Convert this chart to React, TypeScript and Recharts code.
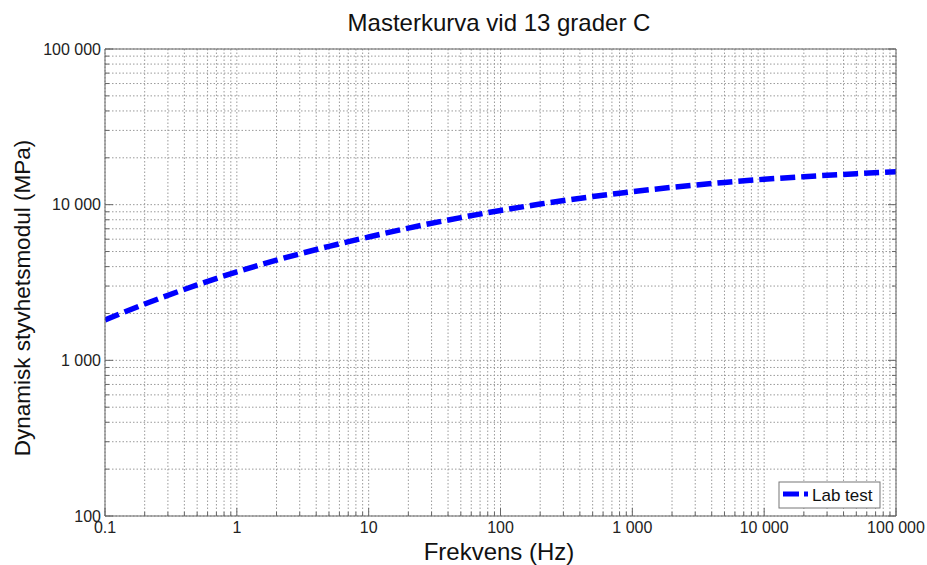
import React from "react";
import { LineChart, Line, XAxis, YAxis, CartesianGrid } from "recharts";

// Frequency (Hz) and dynamic stiffness modulus (MPa)
const frequency = [0.1, 0.2, 0.5, 1, 2, 5, 10, 20, 50, 100, 200, 500, 1000, 2000, 5000, 10000, 20000, 50000, 100000];
const modulus = [1815, 2300, 3050, 3700, 4400, 5400, 6200, 7070, 8260, 9180, 10090, 11270, 12120, 12920, 13900, 14560, 15120, 15810, 16290];

const xMajor = [0.1, 1, 10, 100, 1000, 10000, 100000];
const xMajorLabels = ["0.1", "1", "10", "100", "1 000", "10 000", "100 000"];
const yMajor = [100, 1000, 10000, 100000];
const yMajorLabels = ["100", "1 000", "10 000", "100 000"];
const minorMultipliers = [1, 2, 3, 4, 5, 6, 7, 8, 9];

const title = "Masterkurva vid 13 grader C";
const xTitle = "Frekvens (Hz)";
const yTitle = "Dynamisk styvhetsmodul (MPa)";
const seriesName = "Lab test";

const data = frequency.map((f, i) => ({ f, e: modulus[i] }));

function allTicks(majors: number[]) {
  const out: number[] = [];
  majors.forEach((m, i) => {
    if (i === majors.length - 1) {
      out.push(m);
    } else {
      minorMultipliers.forEach((k) => out.push(parseFloat((m * k).toPrecision(6))));
    }
  });
  return out;
}
const xTicks = allTicks(xMajor);
const yTicks = allTicks(yMajor);

const FONT = "'Liberation Sans', Arial, Helvetica, sans-serif";
const AXIS = "#666";
const MARGIN = 7;
const BOTTOM_MARGIN = 6;

function labelOf(v: number, majors: number[], labels: string[]) {
  const idx = majors.findIndex((m) => Math.abs(m - v) / m < 1e-6);
  return idx >= 0 ? labels[idx] : null;
}

const BottomTick = (props: any) => {
  const { x, y, payload } = props;
  const lab = labelOf(payload.value, xMajor, xMajorLabels);
  const ay = y - BOTTOM_MARGIN;
  const len = lab !== null ? 8 : 4;
  return (
    <g>
      <line x1={x} y1={ay} x2={x} y2={ay - len} stroke={AXIS} strokeWidth={1} />
      {lab !== null && (
        <text x={x} y={y} dy="0.71em" textAnchor="middle" fontSize={16} fontFamily={FONT} fill="#222">
          {lab}
        </text>
      )}
    </g>
  );
};

const TopTick = (props: any) => {
  const { x, y, payload } = props;
  const lab = labelOf(payload.value, xMajor, xMajorLabels);
  const ay = y + MARGIN;
  const len = lab !== null ? 8 : 4;
  return <line x1={x} y1={ay} x2={x} y2={ay + len} stroke={AXIS} strokeWidth={1} />;
};

const LeftTick = (props: any) => {
  const { x, y, payload } = props;
  const lab = labelOf(payload.value, yMajor, yMajorLabels);
  const ax = x + 4;
  const len = lab !== null ? 8 : 4;
  return (
    <g>
      <line x1={ax} y1={y} x2={ax + len} y2={y} stroke={AXIS} strokeWidth={1} />
      {lab !== null && (
        <text x={x} y={y} dy="0.355em" textAnchor="end" fontSize={16} fontFamily={FONT} fill="#222">
          {lab}
        </text>
      )}
    </g>
  );
};

const RightTick = (props: any) => {
  const { x, y, payload } = props;
  const lab = labelOf(payload.value, yMajor, yMajorLabels);
  const ax = x - MARGIN;
  const len = lab !== null ? 8 : 4;
  return <line x1={ax} y1={y} x2={ax - len} y2={y} stroke={AXIS} strokeWidth={1} />;
};

export default function App() {
  return (
    <div style={{ position: "absolute", left: 0, top: 0, width: 927, height: 565, background: "#fff" }}>
      <LineChart width={927} height={565} data={data} margin={{ top: 1, right: 1, bottom: 1, left: 0 }}>
        <CartesianGrid
          xAxisId="b"
          yAxisId="l"
          stroke="#9a9a9a"
          strokeDasharray="1.5 2"
          horizontal
          vertical
        />
        <XAxis
          xAxisId="b"
          dataKey="f"
          type="number"
          scale="log"
          domain={[0.1, 100000]}
          allowDataOverflow
          ticks={xTicks}
          interval={0}
          height={48}
          tickSize={0}
          tickMargin={BOTTOM_MARGIN}
          tick={<BottomTick />}
          axisLine={{ stroke: AXIS }}
          tickLine={false}
        />
        <XAxis
          xAxisId="t"
          orientation="top"
          type="number"
          scale="log"
          domain={[0.1, 100000]}
          allowDataOverflow
          ticks={xTicks}
          interval={0}
          height={48}
          tickSize={0}
          tickMargin={MARGIN}
          tick={<TopTick />}
          axisLine={{ stroke: AXIS }}
          tickLine={false}
        />
        <YAxis
          yAxisId="l"
          type="number"
          scale="log"
          domain={[100, 100000]}
          allowDataOverflow
          ticks={yTicks}
          interval={0}
          width={105}
          tickSize={0}
          tickMargin={4}
          tick={<LeftTick />}
          axisLine={{ stroke: AXIS }}
          tickLine={false}
        />
        <YAxis
          yAxisId="r"
          orientation="right"
          type="number"
          scale="log"
          domain={[100, 100000]}
          allowDataOverflow
          ticks={yTicks}
          interval={0}
          width={30}
          tickSize={0}
          tickMargin={MARGIN}
          tick={<RightTick />}
          axisLine={{ stroke: AXIS }}
          tickLine={false}
        />
        <Line
          xAxisId="b"
          yAxisId="l"
          dataKey="e"
          name={seriesName}
          type="monotone"
          stroke="#0000ff"
          strokeWidth={5.5}
          strokeDasharray="15 6"
          dot={false}
          isAnimationActive={false}
        />
      </LineChart>
      <svg
        width={927}
        height={565}
        style={{ position: "absolute", left: 0, top: 0, pointerEvents: "none" }}
      >
        <text x={499} y={31} textAnchor="middle" fontSize={24} fontFamily={FONT} fill="#111">
          {title}
        </text>
        <text x={499} y={560} textAnchor="middle" fontSize={24} fontFamily={FONT} fill="#111">
          {xTitle}
        </text>
        <text
          x={0}
          y={0}
          transform="translate(30,298) rotate(-90)"
          textAnchor="middle"
          fontSize={22.5}
          fontFamily={FONT}
          fill="#111"
        >
          {yTitle}
        </text>
        <rect x={779} y={482} width={101} height={26} fill="#fff" stroke="#777" strokeWidth={1} />
        <line x1={783} y1={494} x2={808} y2={494} stroke="#0000ff" strokeWidth={5} strokeDasharray="16 5" />
        <text x={812} y={501} fontSize={17} fontFamily={FONT} fill="#111">
          {seriesName}
        </text>
      </svg>
    </div>
  );
}
